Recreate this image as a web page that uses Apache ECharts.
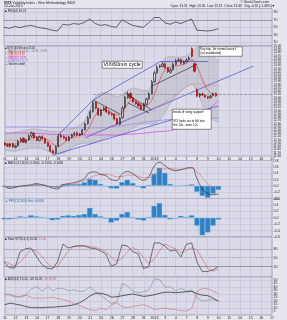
<!DOCTYPE html>
<html><head><meta charset="utf-8">
<script src="https://cdn.jsdelivr.net/npm/echarts@6/dist/echarts.min.js"></script>
<style>html,body{margin:0;padding:0;background:#e6e6ef;}#c{width:287px;height:320px;}</style>
</head><body><div id="c"></div>
<script>
// ---- tick labels / categories ----
const days = ["11","12","13","14","17","18","19","20","21","24","26","27","28","31","2013","3","4","7","8","9","10","11","14","15","16","17"];
// ---- 60-min candles ----
const openV = [12.00,11.95,11.90,11.98,11.87,11.92,12.05,12.15,12.02,12.10,12.22,12.30,12.17,12.08,12.20,12.14,12.02,11.92,11.76,11.70,11.90,12.24,12.20,12.17,12.08,12.18,12.26,12.32,12.24,12.27,12.41,12.60,12.78,12.97,13.26,13.07,12.86,13.03,13.10,12.97,12.91,12.88,12.75,12.58,12.78,13.10,13.40,13.53,13.40,13.28,13.22,13.16,13.04,13.20,13.37,13.53,13.90,14.18,14.36,14.37,14.45,14.33,14.19,14.27,14.43,14.55,14.58,14.46,14.52,14.58,14.92,14.45,13.64,13.46,13.52,13.48,13.43,13.40,13.47,13.53];
const closeV = [11.94,11.91,11.97,11.88,11.91,12.06,12.13,12.03,12.09,12.22,12.31,12.16,12.09,12.19,12.13,12.00,11.91,11.75,11.69,11.88,12.22,12.19,12.16,12.09,12.19,12.25,12.31,12.25,12.28,12.40,12.59,12.77,12.96,13.24,13.08,12.87,13.02,13.08,12.96,12.90,12.87,12.74,12.59,12.77,13.08,13.42,13.52,13.39,13.27,13.21,13.15,13.05,13.21,13.36,13.52,13.89,14.17,14.35,14.38,14.44,14.32,14.20,14.26,14.44,14.54,14.57,14.47,14.51,14.57,14.63,14.68,14.22,13.45,13.52,13.49,13.42,13.39,13.45,13.52,13.46];
const highV = [12.04,11.99,12.00,12.01,11.94,12.10,12.18,12.19,12.12,12.27,12.36,12.34,12.21,12.23,12.24,12.17,12.05,11.95,11.80,11.92,12.28,12.30,12.23,12.20,12.22,12.29,12.35,12.36,12.31,12.44,12.64,12.83,13.02,13.30,13.29,13.10,13.06,13.13,13.14,13.00,12.95,12.92,12.79,12.81,13.14,13.46,13.60,13.57,13.43,13.31,13.25,13.19,13.25,13.40,13.58,13.95,14.24,14.42,14.43,14.50,14.49,14.36,14.31,14.49,14.60,14.63,14.61,14.56,14.62,14.68,14.96,14.47,13.70,13.55,13.56,13.51,13.46,13.49,13.55,13.56];
const lowV = [11.90,11.88,11.86,11.85,11.84,11.89,12.02,12.00,11.99,12.07,12.18,12.13,12.05,12.05,12.10,11.97,11.88,11.71,11.65,11.67,11.87,12.15,12.13,12.06,12.05,12.15,12.22,12.22,12.21,12.25,12.38,12.57,12.75,12.94,13.04,12.83,12.83,12.99,12.93,12.86,12.84,12.70,12.55,12.55,12.75,13.06,13.37,13.35,13.24,13.18,13.12,13.01,13.01,13.17,13.34,13.50,13.86,14.15,14.33,14.34,14.29,14.16,14.15,14.24,14.40,14.52,14.43,14.43,14.49,14.55,14.64,14.18,13.42,13.40,13.45,13.39,13.36,13.37,13.44,13.43];
// ---- overlays (two points per day) ----
const bbUpper = [12.28,12.31,12.34,12.37,12.40,12.43,12.43,12.40,12.37,12.37,12.34,12.40,12.43,12.47,12.53,12.71,13.08,13.45,13.55,13.55,13.49,13.42,13.49,13.64,13.70,13.67,13.61,13.64,13.95,14.38,14.63,14.69,14.66,14.66,14.69,14.81,14.98,14.98,14.88,14.69,14.51];
const bbLower = [11.79,11.75,11.75,11.79,11.82,11.85,11.85,11.82,11.75,11.69,11.66,11.69,11.79,11.91,11.97,12.00,12.00,12.03,12.09,12.19,12.22,12.25,12.28,12.34,12.47,12.56,12.59,12.59,12.59,12.71,12.96,13.24,13.45,13.64,13.76,13.83,13.64,13.18,12.87,12.71,12.65];
const maShort = [12.00,11.97,11.97,12.03,12.09,12.16,12.19,12.16,12.09,11.97,11.91,12.00,12.13,12.19,12.25,12.31,12.56,12.87,13.02,13.02,12.93,12.87,12.96,13.21,13.33,13.24,13.15,13.21,13.52,13.95,14.26,14.35,14.38,14.41,14.47,14.57,14.35,13.95,13.64,13.52,13.49];
// ---- slow overlays (one point every two days) ----
const ma50 = [12.09,12.09,12.09,12.13,12.28,12.53,12.81,13.08,13.49,13.83,13.76];
const ma200 = [12.31,12.31,12.28,12.25,12.25,12.25,12.28,12.34,12.43,12.77,13.33];
const ema300 = [12.50,12.50,12.49,12.47,12.47,12.50,12.59,12.68,12.74,12.77,12.77];
// ---- indicators (two points per day) ----
const rsi = [50,47,52,49,53,55,51,48,46,42,40,58,56,60,58,63,72,60,55,57,52,50,70,62,55,52,50,62,76,76,62,58,64,60,66,72,42,41,40,42,46];
const macd = [0.01,-0.085,-0.05,-0.01,0.01,0.03,0.07,0.04,-0.01,-0.07,-0.10,0.03,0.07,0.10,0.15,0.23,0.42,0.44,0.36,0.32,0.20,0.17,0.36,0.45,0.39,0.26,0.18,0.29,0.61,0.74,0.64,0.53,0.48,0.51,0.56,0.58,0.23,-0.09,-0.24,-0.28,-0.26];
const macdSignal = [-0.01,-0.02,-0.02,-0.02,-0.01,0.01,0.03,0.03,0.01,-0.02,-0.04,-0.02,0.01,0.06,0.10,0.17,0.26,0.32,0.36,0.37,0.34,0.29,0.29,0.34,0.34,0.31,0.26,0.26,0.36,0.48,0.54,0.54,0.53,0.52,0.53,0.55,0.45,0.26,0.07,-0.04,-0.12];
const macdHist = [-0.03,-0.06,-0.05,-0.02,0.02,0.03,0.05,0.03,-0.01,-0.05,-0.06,0.05,0.06,0.05,0.06,0.11,0.22,0.19,0.06,-0.02,-0.08,-0.09,0.12,0.19,0.09,-0.03,-0.08,0.03,0.38,0.57,0.41,0.06,-0.02,0.02,0.03,0.05,-0.19,-0.32,-0.38,-0.25,-0.13];
const ppoHist = [-0.05,-0.05,-0.03,0.05,0.03,0.08,0.05,0.03,-0.02,-0.08,-0.06,0.06,0.08,0.06,0.09,0.12,0.31,0.12,0.05,-0.03,-0.15,-0.09,0.12,0.18,0.03,-0.06,-0.09,0.03,0.37,0.46,0.09,-0.05,-0.02,0.06,0.03,0.08,-0.25,-0.55,-0.46,-0.25,-0.06];
const stochK = [36,17,15,70,80,83,56,29,15,12,36,96,83,88,91,90,83,81,73,63,22,29,93,90,71,64,14,19,100,100,90,73,76,53,95,100,36,3,4,9,20];
const stochD = [40,30,22,35,55,78,73,55,33,18,20,48,72,89,87,90,88,85,79,72,52,38,48,70,85,75,50,32,44,73,97,88,80,67,75,83,77,46,14,5,11];
const adx = [14.5,16.6,15.2,13.8,11.6,10.2,10.2,10.2,10.7,10.9,11.6,12.1,13.1,14.5,17.3,21.6,27.3,30.8,30.8,28.7,25.1,25.9,27.3,28.7,29.7,28,26.3,27.3,28.7,30.8,32.2,32.2,31.5,32.2,33,33.4,30.1,28,27.3,23.7,19.2];
const plusDI = [29.7,28,25.1,26.6,28.7,37.2,40,33.7,40,34.4,37.9,37.2,34.4,35.8,33,34.4,40,32.2,27.3,21.6,15.9,18.8,45,40.8,33.7,31.5,33,35.8,51.4,50,39.3,40,33.7,37.9,33.7,35.8,24.4,19.5,20.9,21.6,20.2];
const minusDI = [28.7,29.4,26.6,25.1,28,24.4,23.7,23.7,24.4,25.1,23,21.6,19.5,15.9,13.1,10.2,6.7,6,9.5,7.4,14.5,17.3,10.9,10.2,12.1,13.1,14.5,11.6,7.4,8.8,9.5,8.1,7.4,6,5.3,9.5,33,37.9,37.2,33.7,30.1];
// ---- hand-drawn trendlines: [fromBar, fromValue, toBar, toValue] ----
const blueLines = [[20,12.25,33,13.33],[33,13.33,57.5,14.51],[57.5,14.54,76,14.54],[18.3,11.63,79.5,13.15],[30,12.16,93,14.38]];
const blackLines = [[33,13.33,42.5,12.90],[45,13.55,54.5,13.02],[46.3,13.24,53.7,12.93],[54.5,13.76,72.4,14.44]];
const levelLine = [33,13.52,100,13.52];

const FONT = 'Liberation Sans';
const BARS_PER_DAY = 4;
const fullCats = Array.from({length: (days.length-1)*BARS_PER_DAY+1}, (_, i) => i % BARS_PER_DAY === 0 ? days[i/BARS_PER_DAY] : '');
const halfCats = Array.from({length: (days.length-1)*2+1}, (_, i) => i % 2 === 0 ? days[i/2] : '');
const ohlc = openV.map((o, i) => [o, closeV[i], lowV[i], highV[i]]);
const slowIdx = v => v.map((y, k) => [k*4, y]);
const bbWidth = bbUpper.map((u, i) => +(u - bbLower[i]).toFixed(2));

const chart = echarts.init(document.getElementById('c'));
const gridBg = '#dadae9', gridLine = '#bdbdd0', border = '#8c8c9c';
const grids = [
  {top: 8.5, height: 37.5}, {top: 46, height: 110}, {top: 160.5, height: 38},
  {top: 198.5, height: 38.5}, {top: 237, height: 40}, {top: 277, height: 38}
].map(g => Object.assign({left: 4, right: 15, show: true, backgroundColor: gridBg, borderColor: border, borderWidth: 0.6}, g));

const lblStyle = {fontSize: 3.6, color: '#222', fontFamily: FONT, margin: 1.5};
function xHalf(gi, labels) {
  return {type: 'category', gridIndex: gi, data: halfCats, boundaryGap: false,
    axisLine: {show: false}, axisTick: {show: false},
    axisLabel: Object.assign({show: labels, interval: (i, v) => v !== ''}, lblStyle, {margin: 1.2}),
    splitLine: {show: true, interval: (i, v) => v !== '', lineStyle: {color: gridLine, width: 0.5}}};
}
const xAxes = [xHalf(0,false), xHalf(1,true), xHalf(2,false), xHalf(3,false), xHalf(4,false), xHalf(5,true),
  {type: 'category', gridIndex: 1, data: fullCats, boundaryGap: false, show: false}];
const T = 'rgba(0,0,0,0)';
function yAx(gi, o) {
  return Object.assign({type: 'value', gridIndex: gi, position: 'right', scale: true,
    axisLine: {show: false}, axisTick: {show: false},
    axisLabel: Object.assign({}, lblStyle),
    splitLine: {show: true, lineStyle: {color: gridLine, width: 0.5}}}, o);
}
const yAxes = [
  yAx(0, {min: 0, max: 100, interval: 10, axisLabel: Object.assign({}, lblStyle, {formatter: v => (v % 20 === 10 ? v : '')}),
    splitLine: {lineStyle: {color: [T, gridLine], width: 0.5}}}),
  yAx(1, {min: 11.6, max: 15.0, interval: 0.1, axisLabel: Object.assign({}, lblStyle, {fontSize: 3.2, margin: 1.2, formatter: v => v.toFixed(2)}),
    splitLine: {lineStyle: {color: [T, T, T, T, gridLine], width: 0.5}}}),
  yAx(2, {min: -0.4, max: 0.8, interval: 0.2, axisLabel: Object.assign({}, lblStyle, {formatter: v => v.toFixed(1)})}),
  yAx(3, {min: -0.6, max: 0.6, interval: 0.2, axisLabel: Object.assign({}, lblStyle, {formatter: v => v.toFixed(1)})}),
  yAx(4, {min: -15, max: 120, interval: 5, axisLabel: Object.assign({}, lblStyle, {formatter: v => ([20,50,80].includes(v) ? v : '')}), splitLine: {show: false}}),
  yAx(5, {min: 0, max: 54, interval: 5, axisLabel: Object.assign({}, lblStyle, {formatter: v => (v > 0 && v <= 50 ? v : '')}),
    splitLine: {lineStyle: {color: [gridLine, T], width: 0.5}}})
];

function line(xi, yi, data, color, width, extra) {
  return Object.assign({type: 'line', xAxisIndex: xi, yAxisIndex: yi, data: data, showSymbol: false, silent: true,
    lineStyle: {color: color, width: width}, z: 3}, extra || {});
}
function lastLabel(v, dec) {
  return {yAxis: v, lineStyle: {opacity: 0}, label: {show: true, position: 'end', distance: 0.5, formatter: v.toFixed(dec),
    fontSize: 3.3, fontFamily: FONT, color: '#000', backgroundColor: '#fff', borderColor: '#444', borderWidth: 0.4, padding: [0.3, 0.6]}};
}
const seg = (a, color, type) => [{coord: [a[0], a[1]], lineStyle: {color: color, width: 0.7, type: type || 'solid'}}, {coord: [a[2], a[3]]}];

const series = [
  // RSI
  line(0, 0, rsi, '#111', 0.6, {markLine: {silent: true, symbol: 'none', label: {show: false},
    data: [{yAxis: 70, lineStyle: {color: '#777', width: 0.6, type: 'solid'}}, {yAxis: 30, lineStyle: {color: '#777', width: 0.6, type: 'solid'}},
      lastLabel(rsi[rsi.length-1], 2)]}}),
  // Bollinger band
  line(1, 1, bbLower, '#9a9aa4', 0.5, {stack: 'bb', z: 1}),
  line(1, 1, bbWidth, '#9a9aa4', 0.5, {stack: 'bb', z: 1, areaStyle: {color: 'rgba(165,165,172,0.45)'}}),
  // slow averages
  line(1, 1, slowIdx(ema300), '#9c8fe6', 0.8, {smooth: true, z: 2}),
  line(1, 1, slowIdx(ma200), '#e04ce0', 0.8, {smooth: true, z: 2}),
  line(1, 1, slowIdx(ma50), '#eb8f8f', 0.6, {smooth: true, z: 2}),
  line(1, 1, maShort, '#e03030', 0.6, {smooth: true, z: 4}),
  // candles
  {type: 'candlestick', xAxisIndex: 6, yAxisIndex: 1, data: ohlc, barWidth: 1.7, silent: true, z: 5,
   itemStyle: {color: T, color0: '#d01010', borderColor: '#111', borderColor0: '#a00000', borderWidth: 0.6},
   markLine: {silent: true, symbol: 'none', label: {show: false},
     data: blueLines.map(a => seg(a, '#4b4bd8')).concat(blackLines.map(a => seg(a, '#333'))).concat([seg(levelLine, '#8a8a96', 'dashed')])
       .concat([lastLabel(closeV[closeV.length-1], 2)])}},
  // MACD
  {type: 'bar', xAxisIndex: 2, yAxisIndex: 2, data: macdHist, barWidth: 5.4, silent: true, itemStyle: {color: '#2e82c4', borderColor: '#8cc0e6', borderWidth: 0.4}},
  line(2, 2, macdSignal, '#e06a6a', 0.6, {smooth: true, markLine: {silent: true, symbol: 'none', data: [lastLabel(macdSignal[40], 2), lastLabel(macd[40], 2)]}}),
  line(2, 2, macd, '#222', 0.6, {smooth: true}),
  // second histogram
  {type: 'bar', xAxisIndex: 3, yAxisIndex: 3, data: ppoHist, barWidth: 5.4, silent: true, itemStyle: {color: '#2e82c4', borderColor: '#8cc0e6', borderWidth: 0.4},
   markLine: {silent: true, symbol: 'none', data: [lastLabel(ppoHist[40], 2)]}},
  // stochastics
  line(4, 4, stochD, '#e06060', 0.6, {markLine: {silent: true, symbol: 'none', label: {show: false}, data: [
    {yAxis: 80, lineStyle: {color: '#888', width: 0.5, type: 'solid'}}, {yAxis: 50, lineStyle: {color: '#888', width: 0.5, type: 'dashed'}},
    {yAxis: 20, lineStyle: {color: '#666', width: 0.6, type: 'solid'}}, lastLabel(stochK[40], 2)]}}),
  line(4, 4, stochK, '#222', 0.6),
  // ADX / DMI
  line(5, 5, plusDI, '#7e8e8e', 0.6),
  line(5, 5, minusDI, '#d86a6a', 0.6, {markLine: {silent: true, symbol: 'none', data: [lastLabel(minusDI[40], 2), lastLabel(plusDI[40], 2)]}}),
  line(5, 5, adx, '#222', 0.7)
];

const txt = (x, y, text, size, color, extra) => ({type: 'text', left: x, top: y, silent: true, z: 100,
  style: Object.assign({text: text, fontSize: size, fontFamily: FONT, fill: color || '#222'}, extra || {})});
const rtxt = (x, y, text, size, color) => ({type: 'text', right: x, top: y, silent: true, z: 100,
  style: {text: text, fontSize: size, fontFamily: FONT, fill: color || '#222', textAlign: 'right'}});
const box = (x, y, w, h) => ({type: 'rect', left: x, top: y, z: 99, silent: true, shape: {width: w, height: h},
  style: {fill: '#fff', stroke: '#222', lineWidth: 0.5}});

const graphic = [
  txt(4, 0.6, '{b|$VIX} Volatility Index - New Methodology INDX', 3.5, '#222', {rich: {b: {fontWeight: 'bold', fontSize: 3.5, fontFamily: FONT}}}),
  txt(4, 4.4, '10-Jan-2013', 3.3),
  rtxt(18, 0.6, '\u00a9 StockCharts.com', 3.3),
  rtxt(12, 4.4, 'Open 13.31  High 13.56  Low 13.13  Close 13.46  Chg -0.20 (-1.46%)\u25bc', 3.3),
  txt(5, 9.3, '\u25a0 RSI(14) 46.21', 3),
  txt(5, 46.8, '\u25a0 $VIX (60 Minute) 13.46', 2.7),
  txt(5, 49.4, '\u2014 BB(20,2.0) 14.51 - 13.58 - 12.65', 2.7, '#777'),
  txt(5, 52.0, '\u2014 MA(10) 13.49', 2.7, '#e03030'),
  txt(5, 54.6, '\u2014 MA(50) 13.76', 2.7, '#e07070'),
  txt(5, 57.2, '\u2014 MA(200) 13.33', 2.7, '#d040d0'),
  txt(5, 59.8, '\u2014 EMA(300) 12.77', 2.7, '#8c7fe0'),
  txt(5, 62.4, '\u2014 Volume undef', 2.7),
  txt(5, 161.4, '\u25a0 MACD(12,26,9) -0.2600, -0.1200, -0.1400', 3),
  txt(5, 199.4, '\u25b2 PPO(12,26,9) Hist -0.0600', 3, '#2e6fb0'),
  txt(5, 238, '\u25a0 Slow STO(14,3) 20.00, {r|11.00}', 3, '#222', {rich: {r: {fill: '#e05050', fontSize: 3, fontFamily: FONT}}}),
  txt(5, 278, '\u25a0 ADX(14) 19.20, +DI 20.20, {r|-DI 30.10}', 3, '#222', {rich: {r: {fill: '#e05050', fontSize: 3, fontFamily: FONT}}}),
  box(102, 61, 40, 7), txt(103.5, 62, 'VIX/60min cycle', 5.2, '#000'),
  box(199, 46.5, 43, 9.5), txt(200.3, 47.6, "Key top...for normal wave'c'", 3, '#000'), txt(200.3, 51.6, '(un-invalidated)', 3, '#000'),
  box(172, 109, 39, 20), txt(173.3, 110.4, 'break of rising support!', 3, '#000'),
  txt(173.3, 119.4, 'VIX looks set to fall into', 3, '#000'), txt(173.3, 123.4, 'the 14s...even 12s', 3, '#000')
];

chart.setOption({animation: false, backgroundColor: '#e6e6ef', grid: grids, xAxis: xAxes, yAxis: yAxes, series: series, graphic: graphic});
</script></body></html>
